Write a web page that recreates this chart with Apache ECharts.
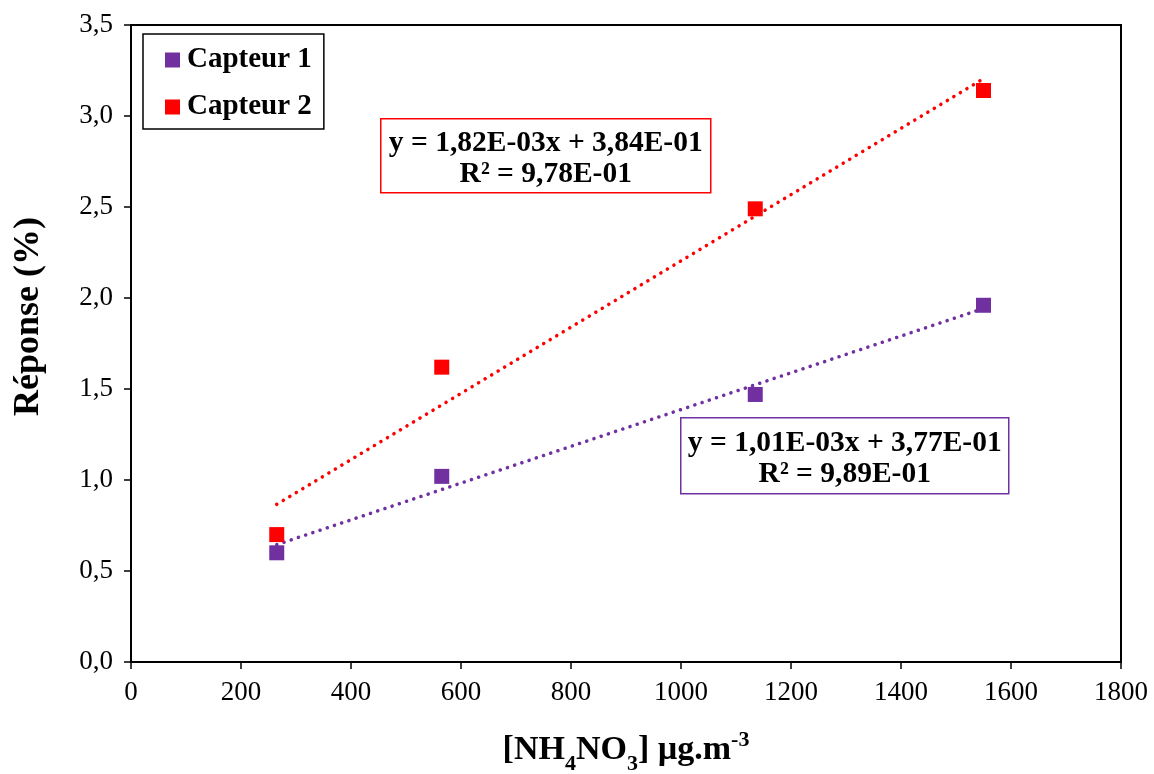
<!DOCTYPE html>
<html><head><meta charset="utf-8">
<script src="https://cdn.jsdelivr.net/npm/echarts@6/dist/echarts.min.js"></script>
<style>html,body{margin:0;padding:0;background:#fff}#c{width:1154px;height:774px}</style>
</head><body><div id="c"></div>
<script>
const concentrations = [265, 565, 1135, 1550];
const capteur1 = [0.60, 1.02, 1.47, 1.96];
const capteur2 = [0.70, 1.62, 2.49, 3.14];
const trendRange = [265, 1550];
const fit1 = {slope: 1.01e-3, intercept: 0.377, label: 'y = 1,01E-03x + 3,77E-01', r2: 'R² = 9,89E-01'};
const fit2 = {slope: 1.82e-3, intercept: 0.384, label: 'y = 1,82E-03x + 3,84E-01', r2: 'R² = 9,78E-01'};
const xTicks = [0, 200, 400, 600, 800, 1000, 1200, 1400, 1600, 1800];
const yTicks = [0, 0.5, 1, 1.5, 2, 2.5, 3, 3.5];

const purple = '#7030A0', red = '#FF0000';
const font = "'Liberation Serif', 'Times New Roman', serif";
const pts = (xs, ys) => xs.map((x, i) => [x, ys[i]]);
const trend = f => trendRange.map(x => [x, f.slope * x + f.intercept]);

function eqBox(f, color, x, y, w, h) {
  return {
    type: 'group', left: x, top: y, z: 10,
    children: [
      {type: 'rect', shape: {x: 0, y: 0, width: w, height: h},
        style: {fill: '#fff', stroke: color, lineWidth: 1.5}},
      {type: 'text', x: w / 2, y: h / 2 + 3,
        style: {text: f.label + '\n' + f.r2, fontFamily: font, fontWeight: 'bold', fontSize: 29.5,
          fill: '#000', align: 'center', verticalAlign: 'middle', lineHeight: 31}}
    ]
  };
}

const chart = echarts.init(document.getElementById('c'));
chart.setOption({
  animation: false,
  backgroundColor: '#fff',
  textStyle: {fontFamily: font},
  grid: {left: 131, right: 33, top: 25, bottom: 112, show: true, borderColor: '#000', borderWidth: 2,
    outerBoundsMode: 'none', containLabel: false},
  legend: {
    left: 143, top: 34, orient: 'vertical',
    data: ['Capteur 1', 'Capteur 2'],
    borderColor: '#000', borderWidth: 1.5,
    padding: [11, 12, 7, 22], itemGap: 17,
    itemWidth: 15, itemHeight: 15, icon: 'rect',
    textStyle: {fontFamily: font, fontWeight: 'bold', fontSize: 29, lineHeight: 30, color: '#000', padding: [0, 0, 0, 2]}
  },
  xAxis: {
    type: 'value', min: xTicks[0], max: xTicks[xTicks.length - 1], interval: 200,
    axisLine: {lineStyle: {color: '#000', width: 2}},
    axisTick: {show: true, length: 7, lineStyle: {color: '#000', width: 1.5}},
    axisLabel: {fontFamily: font, fontSize: 27, color: '#000', margin: 17, formatter: v => String(v)},
    splitLine: {show: false},
    name: '{n|[NH}{s|4}{n|NO}{s|3}{n|] µg.m}{p|-3}',
    nameLocation: 'middle', nameGap: 65,
    nameTextStyle: {
      rich: {
        n: {fontFamily: font, fontWeight: 'bold', fontSize: 34, color: '#000', verticalAlign: 'bottom', lineHeight: 40},
        s: {fontFamily: font, fontWeight: 'bold', fontSize: 22, color: '#000', padding: [0, 0, -8, 0], verticalAlign: 'bottom', lineHeight: 40},
        p: {fontFamily: font, fontWeight: 'bold', fontSize: 22, color: '#000', padding: [0, 0, 16, 0], verticalAlign: 'bottom', lineHeight: 40}
      }
    }
  },
  yAxis: {
    type: 'value', min: yTicks[0], max: yTicks[yTicks.length - 1], interval: 0.5,
    axisLine: {show: true, lineStyle: {color: '#000', width: 2}},
    axisTick: {show: true, length: 7, lineStyle: {color: '#000', width: 1.5}},
    axisLabel: {fontFamily: font, fontSize: 27, color: '#000', margin: 18,
      formatter: v => v.toFixed(1).replace('.', ',')},
    splitLine: {show: false},
    name: 'Réponse (%)', nameLocation: 'middle', nameGap: 84,
    nameTextStyle: {fontFamily: font, fontWeight: 'bold', fontSize: 36, color: '#000', padding: [0, 0, 0, 54]}
  },
  series: [
    {name: 'Capteur 1 trend', type: 'line', data: trend(fit1), symbol: 'none', silent: true,
      lineStyle: {color: purple, width: 3.5, type: [0.1, 7.5], cap: 'round'}, z: 2},
    {name: 'Capteur 2 trend', type: 'line', data: trend(fit2), symbol: 'none', silent: true,
      lineStyle: {color: red, width: 3.5, type: [0.1, 7.5], cap: 'round'}, z: 2},
    {name: 'Capteur 1', type: 'scatter', data: pts(concentrations, capteur1), symbol: 'rect', symbolSize: 15,
      itemStyle: {color: purple, opacity: 1}, z: 3},
    {name: 'Capteur 2', type: 'scatter', data: pts(concentrations, capteur2), symbol: 'rect', symbolSize: 15,
      itemStyle: {color: red, opacity: 1}, z: 3}
  ],
  graphic: [
    eqBox(fit2, red, 380, 118, 330, 74),
    eqBox(fit1, purple, 680, 417, 328, 76)
  ]
});
</script></body></html>
